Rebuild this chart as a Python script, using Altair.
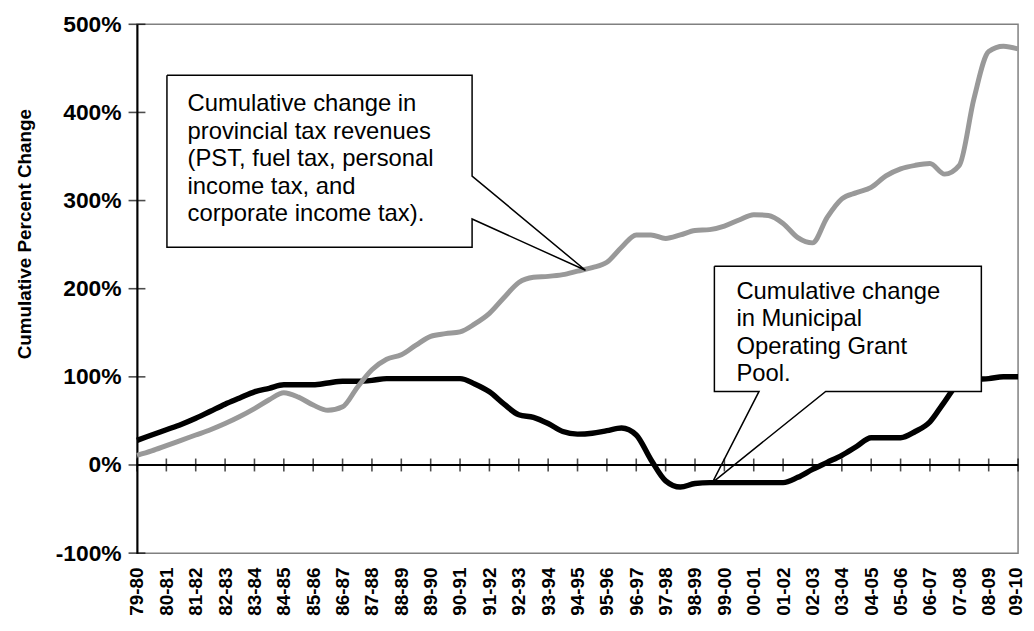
import altair as alt
import pandas as pd

# ---- data ----
labels = ["79-80", "80-81", "81-82", "82-83", "83-84", "84-85", "85-86", "86-87",
          "87-88", "88-89", "89-90", "90-91", "91-92", "92-93", "93-94", "94-95",
          "95-96", "96-97", "97-98", "98-99", "99-00", "00-01", "01-02", "02-03",
          "03-04", "04-05", "05-06", "06-07", "07-08", "08-09", "09-10"]

# half-year readings (index 0, 0.5, 1, ... 30 along the fiscal-year axis)
provincial = [11, 16, 22, 28, 34, 40, 47, 55, 64, 74, 82,
              77, 68, 62, 66, 88, 108, 120, 125, 136, 146,
              149, 151, 160, 172, 190, 207, 213, 214, 216, 220,
              224, 230, 247, 261, 261, 257, 261, 266, 267, 271,
              278, 284, 283, 274, 258, 252, 281, 302, 309, 315,
              328, 336, 340, 342, 330, 340, 416, 469, 475, 472]

municipal = [28, 34, 40, 46, 53, 61, 69, 76, 83, 87, 91,
             91, 91, 93, 95, 95, 96, 98, 98, 98, 98,
             98, 98, 92, 83, 69, 57, 54, 47, 38, 35,
             36, 39, 42, 34, 6, -18, -25, -21, -20, -20,
             -20, -20, -20, -20, -14, -5, 3, 11, 21, 31,
             31, 31, 38, 49, 72, 93, 97, 98, 100, 100]

y_values = [-100, 0, 100, 200, 300, 400, 500]

callout1_lines = ["Cumulative change in", "provincial tax revenues",
                  "(PST, fuel tax, personal", "income tax, and",
                  "corporate income tax)."]
callout2_lines = ["Cumulative change", "in Municipal", "Operating Grant", "Pool."]

# ---- tables ----
steps = [i / 2 for i in range(len(provincial))]
prov_df = pd.DataFrame({"t": steps, "value": provincial})
muni_df = pd.DataFrame({"t": steps, "value": municipal})
xtick_df = pd.DataFrame({"t": list(range(len(labels))), "value": [0] * len(labels)})
ytick_df = pd.DataFrame({"t": [0] * len(y_values), "value": y_values})

# callout geometry in data units (t, value)
c1_box = dict(t=1.02, t2=11.41, value=442.3, value2=247.1)
c1_path = pd.DataFrame({
    "i": list(range(8)),
    "t": [1.02, 11.41, 11.41, 15.27, 11.41, 11.41, 1.02, 1.02],
    "value": [442.3, 442.3, 327.8, 220.9, 279.1, 247.1, 247.1, 442.3],
})
c2_box = dict(t=19.66, t2=28.75, value=225.4, value2=83.5)
c2_path = pd.DataFrame({
    "i": list(range(8)),
    "t": [19.66, 28.75, 28.75, 23.45, 19.59, 21.18, 19.66, 19.66],
    "value": [225.4, 225.4, 83.5, 83.5, -20.0, 83.5, 83.5, 225.4],
})

FONT = "Liberation Sans"
xscale = alt.Scale(domain=[0, 30], nice=False, zero=False)
yscale = alt.Scale(domain=[-100, 500], nice=False, zero=False)

label_expr = "[" + ",".join("'" + s + "'" for s in labels) + "][datum.value]"
last_idx = len(labels) - 1

x_axis = alt.Axis(values=list(range(len(labels))), labelExpr=label_expr,
                  labelAngle=-90, labelAlign="right", labelBaseline="middle",
                  labelFont=FONT, labelFontSize=19, labelFontWeight="bold",
                  labelColor="black", labelPadding=14, ticks=False, tickSize=0,
                  labelOffset={"condition": {"test": f"datum.value === {last_idx}",
                                             "value": -3}, "value": 0},
                  domain=False, grid=False, title=None, labelOverlap=False,
                  labelFlush=False)
y_axis = alt.Axis(values=y_values, labelExpr="datum.value + '%'",
                  labelFont=FONT, labelFontSize=23, labelFontWeight="bold",
                  labelColor="black", labelPadding=16, ticks=False, tickSize=0,
                  domain=True, domainColor="black", domainWidth=2, grid=False,
                  labelFlush=False, labelOverlap=False,
                  title="Cumulative Percent Change", titleFont=FONT,
                  titleFontSize=19, titleFontWeight="bold", titleColor="black",
                  titleAngle=-90, titleAlign="center", titleBaseline="middle",
                  titleX=-113, titleY=211)

X = alt.X("t:Q", scale=xscale, axis=x_axis)
Y = alt.Y("value:Q", scale=yscale, axis=y_axis)

zero_rule = alt.Chart(pd.DataFrame({"value": [0]})).mark_rule(
    color="black", strokeWidth=2).encode(y=Y)

xticks = alt.Chart(xtick_df).mark_tick(
    orient="vertical", size=13, thickness=1.6, color="black").encode(x=X, y=Y)

yticks = alt.Chart(ytick_df).mark_tick(
    orient="horizontal", size=17, thickness=1.6, color="black").encode(x=X, y=Y)

muni_line = alt.Chart(muni_df).mark_line(
    color="black", strokeWidth=5.5, interpolate="monotone").encode(x=X, y=Y)

prov_line = alt.Chart(prov_df).mark_line(
    color="#999999", strokeWidth=5, interpolate="monotone").encode(x=X, y=Y)


def callout(box, path_df, lines, tx, ty):
    rect = alt.Chart(pd.DataFrame([box])).mark_rect(fill="white").encode(
        x=X, x2="t2:Q", y=Y, y2="value2:Q")
    outline = alt.Chart(path_df).mark_line(
        color="black", strokeWidth=1.5).encode(x=X, y=Y, order="i:Q")
    text = alt.Chart(pd.DataFrame({"t": [tx], "value": [ty]})).mark_text(
        align="left", baseline="alphabetic", font=FONT, fontSize=24,
        lineHeight=27.8, color="black").encode(
        x=X, y=Y, text=alt.value(lines))
    return rect + outline + text


c1 = callout(c1_box, c1_path, callout1_lines, 1.72, 401.6)
c2 = callout(c2_box, c2_path, callout2_lines, 20.41, 188.8)

chart = alt.layer(zero_rule, xticks, yticks, muni_line, prov_line, c1, c2).properties(
    width=888, height=533,
    autosize=alt.AutoSizeParams(type="none"),
    padding={"left": 130, "top": 14, "right": 8, "bottom": 68},
    background="white",
).configure_view(stroke="#808080", strokeWidth=1.5)

chart.save("out.html", embed_options={"renderer": "svg", "actions": False})
